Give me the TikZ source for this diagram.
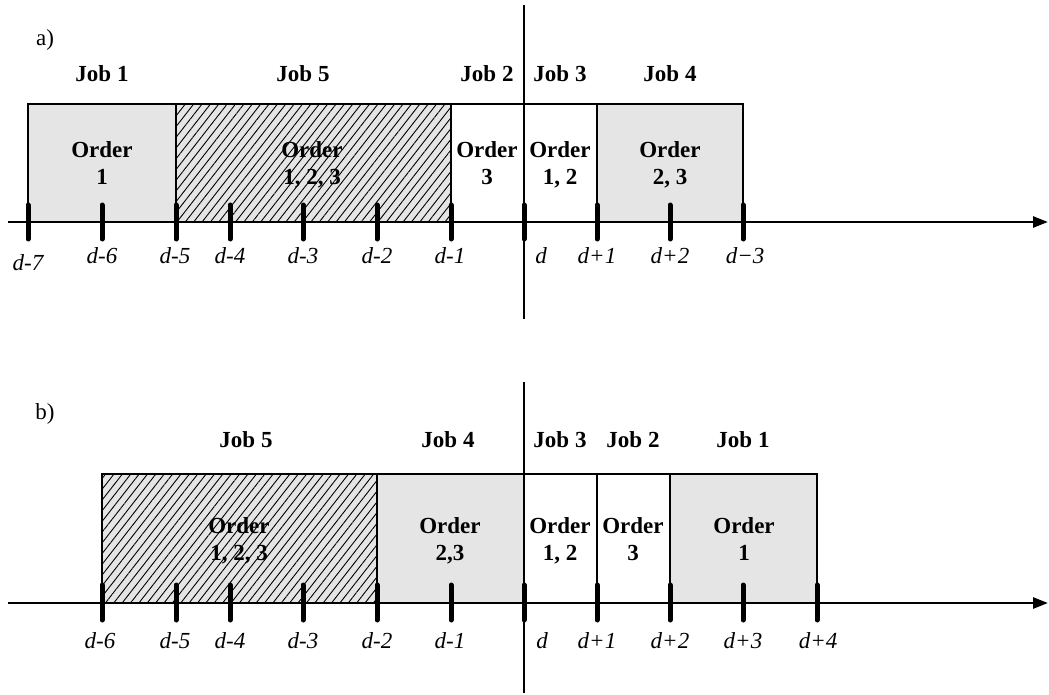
\documentclass[tikz,border=0pt]{standalone}
\usepackage{fontspec}
\setmainfont{Liberation Serif}
\usetikzlibrary{patterns.meta,arrows.meta}
\begin{document}
\begin{tikzpicture}[x=1pt,y=-1pt,
  joblabel/.style={font=\fontsize{23}{25}\selectfont\bfseries, inner sep=0pt, anchor=base},
  ordlabel/.style={font=\fontsize{23}{27.5}\selectfont\bfseries, align=center, inner sep=0pt, text depth=0pt},
  dlabel/.style={font=\fontsize{23}{25}\selectfont\itshape, inner sep=0pt, anchor=base},
  partlabel/.style={font=\fontsize{23}{25}\selectfont, inner sep=0pt, anchor=base},
  tickmark/.style={line width=5pt, line cap=round},
  axisline/.style={line width=2.6pt, -{Triangle[length=15pt,width=11pt]}},
  dline/.style={line width=2.6pt},
  boxline/.style={line width=1.2pt},
  grayfill/.style={fill=black!10},
  hatch/.style={fill=black!10, postaction={pattern={Lines[angle=52,distance=6.6pt,line width=0.9pt]}}}
]
\useasboundingbox (0,0) rectangle (1049,695);

% ---------------- part a ----------------
\node[partlabel] (pa) at (45,46) {a)};
\path[grayfill] (28,104) rectangle (176,222);
\path[hatch] (176,104) rectangle (451,222);
\path[grayfill] (597,104) rectangle (743,222);
\draw[boxline] (28,222) -- (28,104) -- (743,104) -- (743,222);
\foreach \x in {176,451,597} \draw[boxline] (\x,104) -- (\x,222);

\coordinate (aS) at (8,222);
\coordinate (aE) at (1048,222);
\draw[axisline] (aS) -- (aE);
\coordinate (aT) at (524,5);
\coordinate (aB) at (524,319);
\draw[dline] (aT) -- (aB);
\foreach \x in {28,102,176,230,303,377,451,524,597,670,743}
  \draw[tickmark] (\x,205) -- (\x,239);

\node[joblabel] (aj1) at (102,82) {Job 1};
\node[joblabel] (aj5) at (303,82) {Job 5};
\node[joblabel] (aj2) at (487,82) {Job 2};
\node[joblabel] (aj3) at (560,82) {Job 3};
\node[joblabel] (aj4) at (670,82) {Job 4};

\node[ordlabel] (ao1) at (102,163) {Order\\1};
\node[ordlabel] (ao5) at (312,163) {Order\\1, 2, 3};
\node[ordlabel] (ao2) at (487,163) {Order\\3};
\node[ordlabel] (ao3) at (560,163) {Order\\1, 2};
\node[ordlabel] (ao4) at (670,163) {Order\\2, 3};

\node[dlabel] (ad7) at (28,270) {d-7};
\node[dlabel] (ad6) at (102,263) {d-6};
\node[dlabel] (ad5) at (175,263) {d-5};
\node[dlabel] (ad4) at (230,263) {d-4};
\node[dlabel] (ad3) at (303,263) {d-3};
\node[dlabel] (ad2) at (377,263) {d-2};
\node[dlabel] (ad1) at (450,263) {d-1};
\node[dlabel] (ad0) at (541,263) {d};
\node[dlabel] (adp1) at (597,263) {d+1};
\node[dlabel] (adp2) at (670,263) {d+2};
\node[dlabel] (adp3) at (745,263) {d−3};

% ---------------- part b ----------------
\node[partlabel] (pb) at (45,419) {b)};
\path[hatch] (102,474) rectangle (377,603);
\path[grayfill] (377,474) rectangle (524,603);
\path[grayfill] (670,474) rectangle (817,603);
\draw[boxline] (102,603) -- (102,474) -- (817,474) -- (817,603);
\foreach \x in {377,597,670} \draw[boxline] (\x,474) -- (\x,603);

\coordinate (bS) at (8,603);
\coordinate (bE) at (1048,603);
\draw[axisline] (bS) -- (bE);
\coordinate (bT) at (524,382);
\coordinate (bB) at (524,693);
\draw[dline] (bT) -- (bB);
\foreach \x in {102,176,230,303,377,451,524,597,670,743,817}
  \draw[tickmark] (\x,585) -- (\x,620);

\node[joblabel] (bj5) at (246,447) {Job 5};
\node[joblabel] (bj4) at (448,447) {Job 4};
\node[joblabel] (bj3) at (560,447) {Job 3};
\node[joblabel] (bj2) at (633,447) {Job 2};
\node[joblabel] (bj1) at (743,447) {Job 1};

\node[ordlabel] (bo5) at (239,539) {Order\\1, 2, 3};
\node[ordlabel] (bo4) at (450,539) {Order\\2,3};
\node[ordlabel] (bo3) at (560,539) {Order\\1, 2};
\node[ordlabel] (bo2) at (633,539) {Order\\3};
\node[ordlabel] (bo1) at (744,539) {Order\\1};

\node[dlabel] (bd6) at (100,648) {d-6};
\node[dlabel] (bd5) at (175,648) {d-5};
\node[dlabel] (bd4) at (230,648) {d-4};
\node[dlabel] (bd3) at (303,648) {d-3};
\node[dlabel] (bd2) at (377,648) {d-2};
\node[dlabel] (bd1) at (450,648) {d-1};
\node[dlabel] (bd0) at (542,648) {d};
\node[dlabel] (bdp1) at (597,648) {d+1};
\node[dlabel] (bdp2) at (670,648) {d+2};
\node[dlabel] (bdp3) at (743,648) {d+3};
\node[dlabel] (bdp4) at (818,648) {d+4};
\end{tikzpicture}
\end{document}
